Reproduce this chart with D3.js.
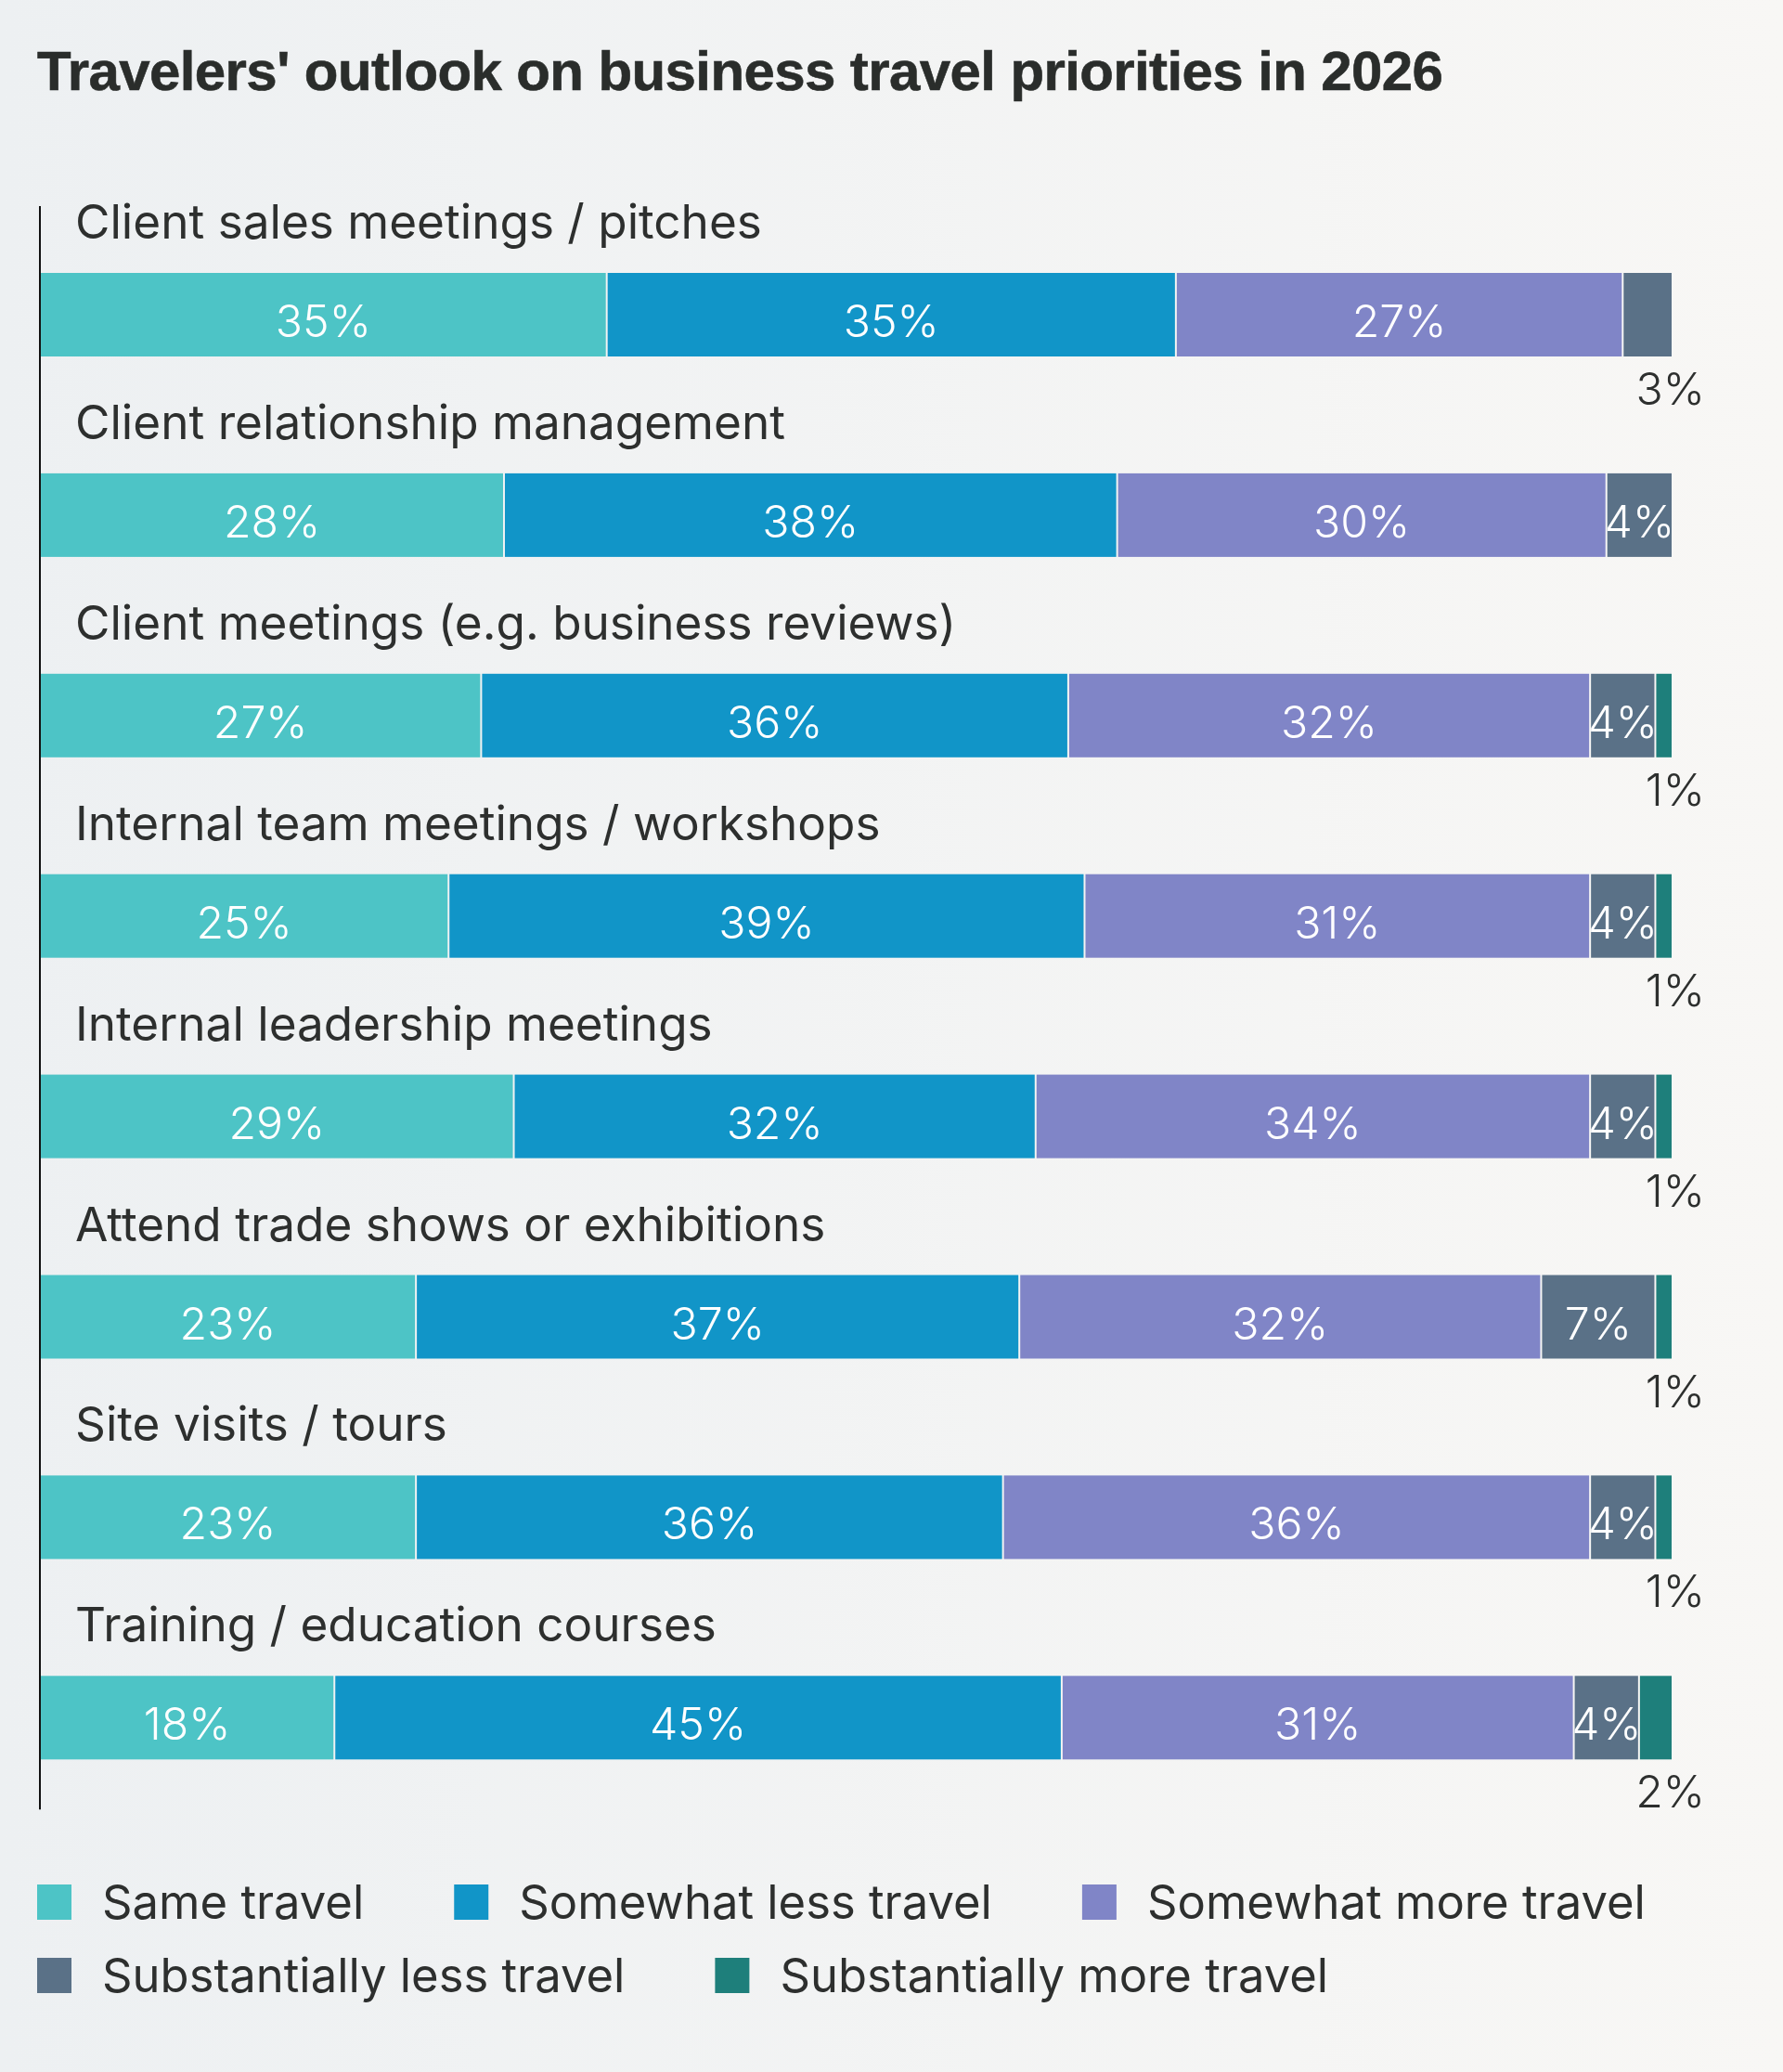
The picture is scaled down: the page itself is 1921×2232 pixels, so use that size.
<!DOCTYPE html>
<html><head><meta charset="utf-8">
<script src="https://cdn.jsdelivr.net/npm/d3@7"></script>
<style>html,body{margin:0;padding:0;} body{width:1921px;height:2232px;overflow:hidden;}</style>
</head><body><svg id="chart" width="1921" height="2232"></svg>
<script>
const titleText = "Travelers' outlook on business travel priorities in 2026";
const categories = [
  "Client sales meetings / pitches",
  "Client relationship management",
  "Client meetings (e.g. business reviews)",
  "Internal team meetings / workshops",
  "Internal leadership meetings",
  "Attend trade shows or exhibitions",
  "Site visits / tours",
  "Training / education courses"
];
const seriesNames = ["Same travel","Somewhat less travel","Somewhat more travel","Substantially less travel","Substantially more travel"];
// values (labels shown rounded)
const sameTravel        = [34.7,28.4,27,25,29,23,23,18];
const somewhatLess      = [34.9,37.6,36,39,32,37,36,44.6];
const somewhatMore      = [27.4,30,32,31,34,32,36,31.4];
const substantiallyLess = [3,4,4,4,4,7,4,4];
const substantiallyMore = [0,0,1,1,1,1,1,2];
const seriesColors = ["#4dc4c6","#1195c8","#8085c7","#5a7187","#1e7f7b"];
const xTicks = [0,100];

const seriesValues = [sameTravel, somewhatLess, somewhatMore, substantiallyLess, substantiallyMore];
const rows = categories.map((c,i)=>{
  const o = {category:c};
  seriesNames.forEach((s,j)=>{ o[s] = seriesValues[j][i]; });
  return o;
});

const W = 1921, H = 2232;
const svg = d3.select("#chart");
const defs = svg.append("defs");
const grad = defs.append("linearGradient").attr("id","bg").attr("x1","0").attr("x2","1").attr("y1","0").attr("y2","0");
grad.append("stop").attr("offset","0").attr("stop-color","#edf0f2");
grad.append("stop").attr("offset","1").attr("stop-color","#f8f7f5");
svg.append("rect").attr("width",W).attr("height",H).attr("fill","url(#bg)");

const FONT = "Inter, 'Noto Sans', sans-serif";
function measure(text, family, weight, size, ls){
  const t = svg.append("text").attr("font-family",family).attr("font-weight",weight).attr("font-size",size)
    .attr("letter-spacing", ls||0).text(text);
  const w = t.node().getComputedTextLength(); t.remove();
  return w;
}
function fit(text, family, weight, target, base){
  return base*target/measure(text,family,weight,base);
}

// title: fixed cap height, tightened to the reference width
const TFONT = "'Liberation Sans', Arial, sans-serif";
const titleSize = 60;
const tw0 = measure(titleText, TFONT, 700, titleSize, 0);
const titleLS = (1515 - tw0)/(titleText.length-1);
svg.append("text").attr("x",40).attr("y",97)
  .attr("font-family",TFONT).attr("font-weight",700)
  .attr("font-size",titleSize).attr("letter-spacing",titleLS)
  .attr("stroke","#2a2d2b").attr("stroke-width",0.6)
  .attr("fill","#2a2d2b").text(titleText);

const x = d3.scaleLinear().domain(xTicks).range([44,1801]);
const y = d3.scaleBand().domain(categories).range([214, 214+8*215.9]).paddingInner(0);
const barOffset = 80, barH = 90;

const stack = d3.stack().keys(seriesNames);
const stacked = stack(rows);

const catSize = fit(categories[0], FONT, 400, 740, 50);
const valSize = fit("35%", FONT, 300, 103, 50);

// axis line
svg.append("line").attr("x1",43).attr("x2",43).attr("y1",y.range()[0]+8).attr("y2",y.range()[1]+8)
  .attr("stroke","#111").attr("stroke-width",2);

// category labels
svg.append("g").selectAll("text").data(categories).join("text")
  .attr("x",81).attr("y",d=>y(d)+43)
  .attr("font-family",FONT).attr("font-size",catSize).attr("fill","#2d2f2e").text(d=>d);

const gSeries = svg.append("g").selectAll("g").data(stacked).join("g").attr("fill",(d,i)=>seriesColors[i]);
let clipId = 0;
gSeries.each(function(s, si){
  const g = d3.select(this);
  s.forEach((d,ri)=>{
    const v = d[1]-d[0];
    if (v<=0) return;
    let hasNext = false;
    for (let k=si+1;k<seriesNames.length;k++) if (stacked[k][ri][1]-stacked[k][ri][0]>0) hasNext=true;
    const x0 = x(d[0]) + (si>0?1:0);
    const x1 = x(d[1]) - (hasNext?1:0);
    const top = y(categories[ri]) + barOffset;
    const id = "c"+(clipId++);
    defs.append("clipPath").attr("id",id).append("rect").attr("x",x0).attr("y",top).attr("width",x1-x0).attr("height",barH);
    g.append("rect").attr("x",x0).attr("y",top).attr("width",x1-x0).attr("height",barH);
    const label = Math.round(v)+"%";
    if (Math.round(v)>3) {
      g.append("text").attr("clip-path",`url(#${id})`)
        .attr("x",(x0+x1)/2).attr("y",top+69).attr("text-anchor","middle")
        .attr("font-family",FONT).attr("font-weight",300).attr("font-size",valSize)
        .attr("fill","#ffffff").text(label);
    } else {
      g.append("text").attr("x",x(xTicks[1])+36).attr("y",top+barH+52).attr("text-anchor","end")
        .attr("font-family",FONT).attr("font-weight",300).attr("font-size",valSize)
        .attr("fill","#2d2f2e").text(label);
    }
  });
});

// legend
const legSize = fit("Somewhat more travel", FONT, 400, 537, 50);
const legend = svg.append("g");
let lx = 40, ly = 2030;
seriesNames.forEach((s,i)=>{
  const t = legend.append("text").attr("font-family",FONT).attr("font-size",legSize).attr("fill","#2d2f2e").text(s);
  const tw = t.node().getComputedTextLength();
  if (lx + 70 + tw > 1850) { lx = 40; ly += 79; }
  legend.append("rect").attr("x",lx).attr("y",ly).attr("width",37).attr("height",38).attr("fill",seriesColors[i]);
  t.attr("x",lx+70).attr("y",ly+37);
  lx += 70 + tw + 97;
});
</script>
</body></html>
